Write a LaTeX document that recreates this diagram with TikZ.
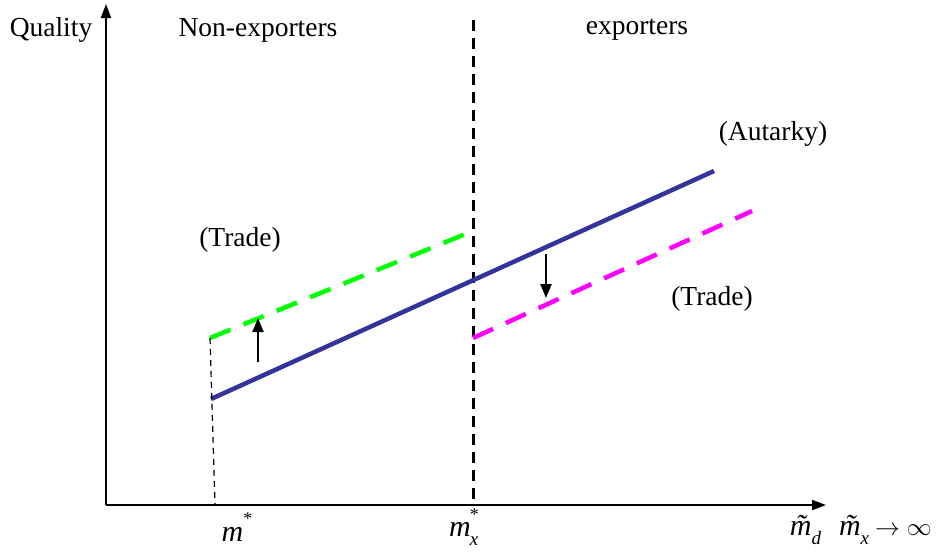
\documentclass[tikz,border=0pt]{standalone}
\usepackage{fontspec}
\setmainfont{Liberation Serif}
\usetikzlibrary{arrows.meta}
\newcommand{\supstar}{\raisebox{0.55em}{\fontsize{18}{20}\selectfont *}}
\newcommand{\subit}[1]{\raisebox{-0.3em}{\fontsize{19}{20}\selectfont\itshape #1}}
\newcommand{\tm}{\~{\itshape m}}
\begin{document}
\begin{tikzpicture}[x=1pt,y=-1pt,
  lbl/.style={font=\fontsize{27.5}{32}\selectfont, inner sep=0pt},
  mlbl/.style={font=\fontsize{30}{34}\selectfont, inner sep=0pt},
  axis/.style={line width=2pt,-{Triangle[length=14pt,width=10pt]}},
  shiftarrow/.style={line width=2.2pt,-{Triangle[length=14pt,width=11pt]}},
  curve/.style={line width=4.5pt},
  bluecol/.style={curve, draw={rgb,255:red,51;green,51;blue,153}},
  greencol/.style={curve, draw={rgb,255:red,0;green,255;blue,0}, dash pattern=on 22pt off 14pt},
  magcol/.style={curve, draw={rgb,255:red,255;green,0;blue,255}, dash pattern=on 22pt off 14pt},
  divider/.style={line width=3pt, dash pattern=on 11pt off 7pt},
  guide/.style={line width=1.2pt, dash pattern=on 6pt off 5pt}]
\useasboundingbox (0,0) rectangle (936,552);
% axes
\coordinate (O) at (106,505);
\coordinate (ytop) at (106,4);
\coordinate (xend) at (826,505);
\draw[axis] (O) -- (ytop);
\draw[axis] (O) -- (xend);
% divider
\coordinate (dtop) at (473,20);
\coordinate (dbot) at (473,505);
\draw[divider] (dtop) -- (dbot);
% curves
\coordinate (b1) at (211,399);
\coordinate (b2) at (714,171);
\draw[bluecol] (b1) -- (b2);
\coordinate (g1) at (210,338);
\coordinate (g2) at (468,233);
\draw[greencol] (g1) -- (g2);
\coordinate (p1) at (473,338);
\coordinate (p2) at (752,211);
\draw[magcol] (p1) -- (p2);
% guide
\coordinate (gb) at (215,505);
\draw[guide] (g1) -- (gb);
% shift arrows
\coordinate (u1) at (258,362);
\coordinate (u2) at (258,318);
\draw[shiftarrow] (u1) -- (u2);
\coordinate (d1) at (546,254);
\coordinate (d2) at (546,298);
\draw[shiftarrow] (d1) -- (d2);
% labels
\node[lbl] (qual) at (51,30) {Quality};
\node[lbl] (nonexp) at (258,30) {Non-exporters};
\node[lbl] (exp) at (637,30) {exporters};
\node[lbl] (trade1) at (240,240) {(Trade)};
\node[lbl] (autarky) at (773,134) {(Autarky)};
\node[lbl] (trade2) at (712,299) {(Trade)};
\node[mlbl] (mstar) at (237,527) {{\itshape m}\supstar};
\node[mlbl] (mxstar) at (464,527) {{\itshape m}\hspace{-1pt}\rlap{\subit{x}}\supstar};
\node[mlbl, anchor=east] (minf) at (932,530) {\tm\subit{d}\hspace{18pt}\tm\subit{x}\hspace{6pt}$\rightarrow\infty$};
\end{tikzpicture}
\end{document}
